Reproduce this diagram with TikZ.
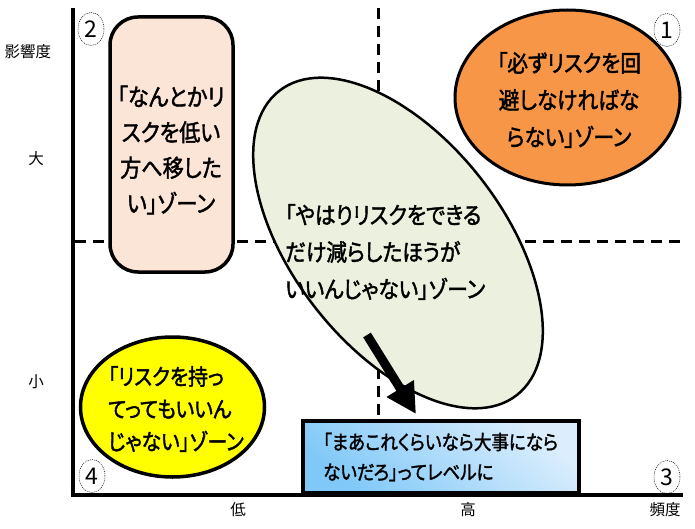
\documentclass[tikz,border=0pt]{standalone}
\usepackage{fontspec}
\newfontfamily\jp[FakeStretch=0.88, FakeBold=1.8, RawFeature=+palt]{Noto Sans CJK JP}
\newfontfamily\jpthin{Noto Sans CJK JP}
\usetikzlibrary{shapes.geometric,arrows.meta,calc}
\definecolor{pinkfill}{HTML}{FBE5D6}
\definecolor{orangefill}{HTML}{F79646}
\definecolor{greenfill}{HTML}{EBF1DE}
\definecolor{yellowfill}{HTML}{FFFF00}
\definecolor{bluedark}{HTML}{80C8F8}
\definecolor{bluelight}{HTML}{DCEEFD}
\begin{document}
\begin{tikzpicture}[x=1pt,y=-1pt,
  zone/.style={draw=black, line width=3pt},
  zonetext/.style={font=\jp\fontsize{24}{35.5}\selectfont, inner sep=0pt},
  axislabel/.style={font=\jpthin\fontsize{15.5}{15.5}\selectfont, inner sep=0pt},
  circnum/.style={ellipse, draw=black, line width=0.5pt, dash pattern=on 1pt off 1pt,
    minimum width=26pt, minimum height=33pt, inner sep=0pt,
    font=\jpthin\fontsize{23}{23}\selectfont},
  dashline/.style={line width=3pt, dash pattern=on 11pt off 7pt},
  axisline/.style={line width=4.5pt}
]
\fill[white] (0,0) rectangle (695,529);
\useasboundingbox (0,0) rectangle (695,529);

% axes
\coordinate (otop) at (73,8);
\coordinate (orig) at (73,495);
\coordinate (xend) at (683,495);
\coordinate (hl) at (75,241);
\coordinate (hr) at (683,241);
\coordinate (vt) at (378,8);
\coordinate (vb) at (378,495);
\draw[dashline] (hl) -- (hr);
\draw[dashline] (vt) -- (vb);
\draw[axisline] (otop) -- ($(orig)+(0,2.2)$);
\draw[axisline] ($(orig)+(-2.2,0)$) -- (xend);

% axis labels
\node[axislabel] (lyaxis) at (28,52) {影響度};
\node[axislabel] (lbig) at (36,159) {大};
\node[axislabel] (lsmall) at (36,382) {小};
\node[axislabel] (llow) at (238,510) {低};
\node[axislabel] (lhigh) at (468,510) {高};
\node[axislabel] (lxaxis) at (665,510) {頻度};

% zone 2 (pink)
\node[zone, line width=3.5pt, rectangle, rounded corners=28pt, fill=pinkfill,
  minimum width=123pt, minimum height=255pt] (z2) at (171.5,144.5) {};
\node[zonetext, align=center] (t2) at (171,150) {「なんとかリ\\スクを低い\\方へ移した\\い」ゾーン};

% zone 1 (orange)
\node[zone, ellipse, fill=orangefill, minimum width=225pt, minimum height=175pt] (z1) at (567.5,97.5) {};
\node[zonetext, font=\jp\fontsize{23.5}{37}\selectfont, align=center] (t1) at (569,100) {「必ずリスクを回\\避しなければな\\らない」ゾーン};

% zone green
\node[zone, line width=2.5pt, ellipse, fill=greenfill, minimum width=386pt, minimum height=210pt, rotate=-52] (zg) at (398,243) {};
\node[zonetext, align=left, anchor=west, font=\jp\fontsize{23.5}{37}\selectfont] (tg) at (285,252) {「やはりリスクをできる\\だけ減らしたほうが\\いいんじゃない」ゾーン};

% zone 4 (yellow)
\node[zone, line width=3.5pt, ellipse, fill=yellowfill, minimum width=184pt, minimum height=140pt] (z4) at (172.5,407) {};
\node[zonetext, font=\jp\fontsize{22.5}{32.5}\selectfont, align=left, anchor=west] (t4) at (108,409) {「リスクを持っ\\てってもいいん\\じゃない」ゾーン};

% zone blue
\node[zone, line width=3.5pt, rectangle, top color=bluelight, bottom color=bluedark, shading angle=-40,
  minimum width=276pt, minimum height=72pt] (zb) at (441,457) {};
\node[zonetext, font=\jp\fontsize{19.9}{30}\selectfont, align=left, anchor=west] (tb) at (323,457) {「まあこれくらいなら大事になら\\ないだろ」ってレベルに};

% arrow
\coordinate (atail) at (367,335);
\coordinate (ahead) at (416,414);
\draw[line width=9pt, -{Triangle[length=30pt,width=30pt]}] (atail) -- (ahead);

% circled numbers
\node[circnum] (n2) at (91,29) {2};
\node[circnum] (n1) at (667,30) {1};
\node[circnum] (n3) at (667,477) {3};
\node[circnum] (n4) at (92,476) {4};
\end{tikzpicture}
\end{document}
